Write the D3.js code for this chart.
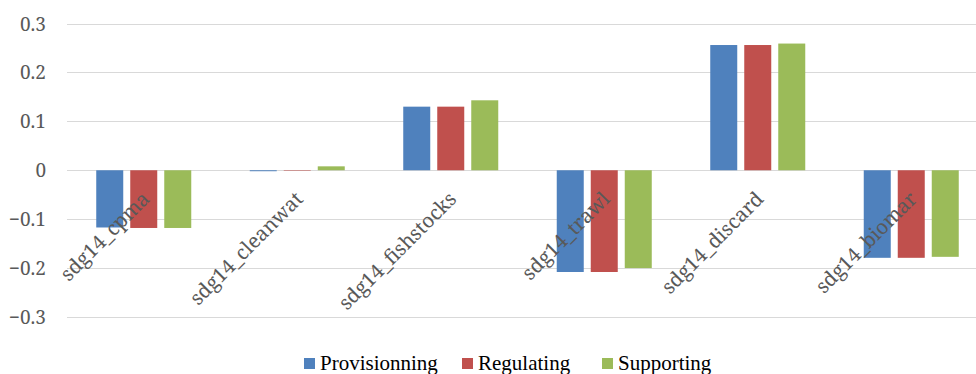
<!DOCTYPE html>
<html><head><meta charset="utf-8">
<script src="https://cdn.jsdelivr.net/npm/d3@7"></script>
<style>body{margin:0;background:#fff}svg{display:block}</style>
</head><body>
<script>
const categories = ["sdg14_cpma","sdg14_cleanwat","sdg14_fishstocks","sdg14_trawl","sdg14_discard","sdg14_biomar"];
const seriesNames = ["Provisionning","Regulating","Supporting"];
const provisionning = [-0.117,-0.002,0.130,-0.208,0.256,-0.179];
const regulating    = [-0.118,-0.001,0.130,-0.208,0.256,-0.179];
const supporting    = [-0.118,0.008,0.143,-0.200,0.259,-0.177];
const yTicks = [-0.3,-0.2,-0.1,0,0.1,0.2,0.3];
const colors = ["#4f81bd","#c0504d","#9bbb59"];
const seriesValues = [provisionning, regulating, supporting];

const W = 976, H = 374;
const svg = d3.select("body").append("svg").attr("width", W).attr("height", H);
const y = d3.scaleLinear().domain([-0.3,0.3]).range([317,23.5]);
const x0 = d3.scaleBand().domain(categories).range([67,988]).paddingInner(0).paddingOuter(0);
const x1 = d3.scaleBand().domain(seriesNames).range([0,x0.bandwidth()]).paddingInner(0.206).paddingOuter(0.86);

// gridlines
svg.append("g").selectAll("line").data(yTicks).join("line")
  .attr("x1",67).attr("x2",W).attr("y1",d=>Math.round(y(d))+0.5).attr("y2",d=>Math.round(y(d))+0.5)
  .attr("stroke","#d9d9d9").attr("stroke-width",1.2);

// y tick labels
svg.append("g").selectAll("text").data(yTicks).join("text")
  .attr("x",46).attr("y",d=>y(d)+7).attr("text-anchor","end")
  .attr("font-family","'Noto Serif', serif").attr("font-size",19).attr("fill","#595959")
  .text(d=>d3.format("")(d));

// bars
const groups = svg.append("g").selectAll("g").data(categories).join("g")
  .attr("transform",d=>`translate(${x0(d)},0)`);
groups.selectAll("rect").data((d,i)=>seriesNames.map((s,j)=>({s,j,v:seriesValues[j][i]}))).join("rect")
  .attr("x",d=>x1(d.s)).attr("width",x1.bandwidth())
  .attr("y",d=>y(Math.max(0,d.v))).attr("height",d=>Math.abs(y(d.v)-y(0)))
  .attr("fill",d=>colors[d.j]);

// category labels
svg.append("g").selectAll("text").data(categories).join("text")
  .attr("transform",d=>`translate(${x0(d)+x0.bandwidth()/2+7},${y(0)+30}) rotate(-45)`)
  .attr("text-anchor","end")
  .attr("font-family","'Noto Serif', serif").attr("font-size",20).attr("fill","#595959")
  .text(d=>d);

// legend
const legX = [304,462,602];
const leg = svg.append("g").selectAll("g").data(seriesNames).join("g")
  .attr("transform",(d,i)=>`translate(${legX[i]},0)`);
leg.append("rect").attr("x",0).attr("y",358).attr("width",11).attr("height",11).attr("fill",(d,i)=>colors[i]);
leg.append("text").attr("x",16).attr("y",370)
  .attr("font-family","'Liberation Serif', serif").attr("font-size",21).attr("fill","#000")
  .text(d=>d);
</script>
</body></html>
